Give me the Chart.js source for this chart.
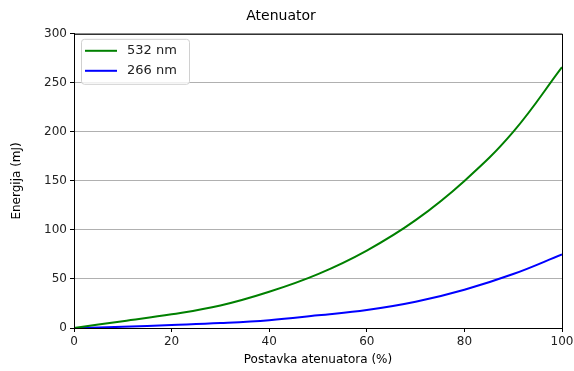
<!DOCTYPE html>
<html>
<head>
<meta charset="utf-8">
<script src="https://cdn.jsdelivr.net/npm/chart.js@4/dist/chart.umd.min.js"></script>
<style>
  body { margin: 0; background: #fff; }
  #wrap { width: 574px; height: 371px; }
</style>
</head>
<body>
<div id="wrap"><canvas id="grafik" width="574" height="371"></canvas></div>
<script>
// postavka atenuatora (%)
var postavka = [0, 10, 20, 30, 40, 50, 60, 70, 80, 90, 100];
// energija u mJ, procenjeno sa slike
var energija532 = [0, 7, 14, 23, 37, 55, 79, 110, 150, 200, 266];
var energija266 = [0, 1.2, 3, 5, 8, 13, 18.3, 26.7, 39, 55, 75];
var xTicks = [0, 20, 40, 60, 80, 100];
var yTicks = [0, 50, 100, 150, 200, 250, 300];

function tacke(vrednosti) {
  return postavka.map(function (x, i) {
    return { x: x, y: vrednosti[i] };
  });
}

// legenda unutar grafika i okvir oko oblasti
var okvirPlugin = {
  id: "okvir",
  afterDraw: function (chart) {
    var ctx = chart.ctx;
    var a = chart.chartArea;
    ctx.save();
    ctx.strokeStyle = "#000";
    ctx.lineWidth = 1;
    ctx.strokeRect(a.left + 0.5, a.top + 0.5, a.right - a.left, a.bottom - a.top);

    // legenda
    var lx = a.left + 7, ly = a.top + 5, lw = 108, lh = 45;
    ctx.fillStyle = "rgba(255,255,255,0.8)";
    ctx.strokeStyle = "#d0d0d0";
    ctx.beginPath();
    ctx.roundRect(lx + 0.5, ly + 0.5, lw, lh, 3);
    ctx.fill();
    ctx.stroke();
    ctx.font = "13px 'DejaVu Sans'";
    ctx.textBaseline = "middle";
    chart.data.datasets.forEach(function (ds, i) {
      var y = ly + 12 + i * 20;
      ctx.strokeStyle = ds.borderColor;
      ctx.lineWidth = 2;
      ctx.beginPath();
      ctx.moveTo(lx + 4, y);
      ctx.lineTo(lx + 36, y);
      ctx.stroke();
      ctx.fillStyle = "#222";
      ctx.fillText(ds.label, lx + 46, y);
    });
    ctx.restore();
  }
};

var chrt = document.getElementById("grafik").getContext("2d");
var grafik = new Chart(chrt, {
  type: "line",
  data: {
    datasets: [
      {
        label: "532 nm",
        data: tacke(energija532),
        borderColor: "#008000",
        borderWidth: 2,
        pointRadius: 0,
        tension: 0.4,
        fill: false
      },
      {
        label: "266 nm",
        data: tacke(energija266),
        borderColor: "#0000ff",
        borderWidth: 2,
        pointRadius: 0,
        tension: 0.4,
        fill: false
      }
    ]
  },
  options: {
    responsive: false,
    animation: false,
    layout: { padding: { left: 0, right: 12, top: 0, bottom: 0 } },
    plugins: {
      legend: { display: false },
      tooltip: { enabled: false },
      title: {
        display: true,
        text: "Atenuator",
        color: "#000",
        font: { family: "DejaVu Sans", size: 14, weight: "normal" },
        padding: { top: 8, bottom: 9 }
      }
    },
    scales: {
      x: {
        type: "linear",
        min: 0,
        max: 100,
        afterBuildTicks: function (s) {
          s.ticks = xTicks.map(function (v) { return { value: v }; });
        },
        afterFit: function (s) {
          s.height = 43;
          s.paddingLeft = 0;
          s.paddingRight = 0;
        },
        grid: {
          drawOnChartArea: false,
          drawTicks: true,
          tickLength: 4,
          tickColor: "#000"
        },
        border: { color: "#000" },
        ticks: {
          color: "#222",
          padding: 3,
          maxRotation: 0,
          font: { family: "DejaVu Sans", size: 12 }
        },
        title: {
          display: true,
          text: "Postavka atenuatora (%)",
          color: "#000",
          padding: { top: 2 },
          font: { family: "DejaVu Sans", size: 12 }
        }
      },
      y: {
        type: "linear",
        min: 0,
        max: 300,
        afterBuildTicks: function (s) {
          s.ticks = yTicks.map(function (v) { return { value: v }; });
        },
        afterFit: function (s) { s.width = 74; },
        grid: {
          color: "#b0b0b0",
          drawTicks: true,
          tickLength: 4,
          tickColor: "#000"
        },
        border: { color: "#000" },
        ticks: {
          color: "#222",
          padding: 3,
          font: { family: "DejaVu Sans", size: 12 }
        },
        title: {
          display: true,
          text: "Energija (mJ)",
          color: "#000",
          padding: { top: 10, bottom: 4 },
          font: { family: "DejaVu Sans", size: 12 }
        }
      }
    }
  },
  plugins: [okvirPlugin]
});
</script>
</body>
</html>
